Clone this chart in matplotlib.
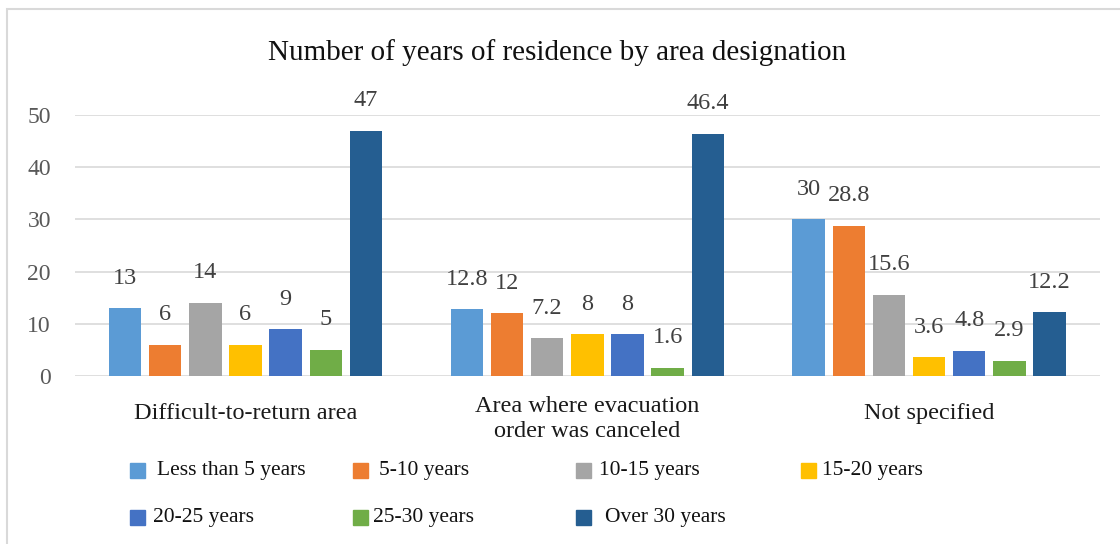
import matplotlib
matplotlib.use("Agg")
import matplotlib.pyplot as plt
from matplotlib.patches import Rectangle
from matplotlib.transforms import offset_copy
import numpy as np

categories = ["Difficult-to-return area", "Area where evacuation\norder was canceled", "Not specified"]
series_names = ["Less than 5 years", "5-10 years", "10-15 years", "15-20 years",
                "20-25 years", "25-30 years", "Over 30 years"]
values = [
    [13, 12.8, 30],
    [6, 12, 28.8],
    [14, 7.2, 15.6],
    [6, 8, 3.6],
    [9, 8, 4.8],
    [5, 1.6, 2.9],
    [47, 46.4, 12.2],
]
labels = [
    ["13", "12.8", "30"],
    ["6", "12", "28.8"],
    ["14", "7.2", "15.6"],
    ["6", "8", "3.6"],
    ["9", "8", "4.8"],
    ["5", "1.6", "2.9"],
    ["47", "46.4", "12.2"],
]
colors = ["#5B9BD5", "#ED7D31", "#A5A5A5", "#FFC000", "#4472C4", "#70AD47", "#255E91"]
yticks = [0, 10, 20, 30, 40, 50]
title = "Number of years of residence by area designation"

plt.rcParams['font.family'] = ['Liberation Serif', 'DejaVu Serif']

W, H = 1120, 544
fig = plt.figure(figsize=(W / 100, H / 100), dpi=100)
# chart border
fig.patches.append(Rectangle((7 / W, -0.1), 1.2, 1.1 - 9 / H, transform=fig.transFigure,
                             fill=False, edgecolor="#D9D9D9", linewidth=1.5))

ax_left, ax_right, ax_bottom, ax_top = 74.6, 1100, 376, 115
ax = fig.add_axes([ax_left / W, 1 - ax_bottom / H, (ax_right - ax_left) / W, (ax_bottom - ax_top) / H])
x = np.arange(len(categories))
pitch = 0.1175
width = 0.095
n = len(series_names)
for i, (name, vals) in enumerate(zip(series_names, values)):
    offs = (i - (n - 1) / 2) * pitch
    bars = ax.bar(x + offs, vals, width, color=colors[i], label=name, zorder=3)
    for b, lab in zip(bars, labels[i]):
        ax.annotate(lab, (b.get_x() + b.get_width() / 2, b.get_height()),
                    xytext=(0, 30), textcoords="offset pixels", ha="center", va="center",
                    fontsize=17.5, color="#404040", annotation_clip=False)

ax.set_xlim(-0.5, 2.5)
ax.set_ylim(0, 50)
ax.set_yticks(yticks)
ax.set_yticklabels([str(t) for t in yticks], fontsize=17, color="#595959")
ax.tick_params(axis="y", length=0, pad=17)
ax.set_xticks(x)
ax.set_xticklabels([])
ax.tick_params(axis="x", length=0)
for s in ax.spines.values():
    s.set_visible(False)
ax.grid(axis="y", color="#D9D9D9", linewidth=1.2, zorder=0)
ax.set_axisbelow(True)

# category labels (Excel-style: block vertically centred)
xt = ax.get_xaxis_transform()
for xi, cat in zip(x, categories):
    lines = cat.split("\n")
    first_base = 419 if len(lines) == 1 else 412
    for k, line in enumerate(lines):
        ybase = first_base + 25 * k
        ax.text(xi, 0, line, transform=offset_copy(xt, fig=fig, x=0, y=-(ybase - ax_bottom), units="dots"),
                ha="center", va="baseline", fontsize=17.5, color="#1A1A1A")

fig.text(557 / W, 1 - 60 / H, title, ha="center", va="baseline", fontsize=21, color="#111111")

# legend placed manually (square left x, row centre y, text left x)
leg_pos = [(130, 470.5, 157), (353, 470.5, 379), (576, 470.5, 599), (801, 470.5, 822),
           (130, 517.5, 153), (353, 517.5, 373), (576, 517.5, 605)]
for (sx, sy, tx), name, c in zip(leg_pos, series_names, colors):
    fig.patches.append(Rectangle((sx / W, 1 - (sy + 7.5) / H), 15 / W, 15 / H,
                                 transform=fig.transFigure, color=c))
    fig.text(tx / W, 1 - sy / H, name, ha="left", va="center", fontsize=15.5, color="#111111")

fig.savefig("out.png", dpi=100)
